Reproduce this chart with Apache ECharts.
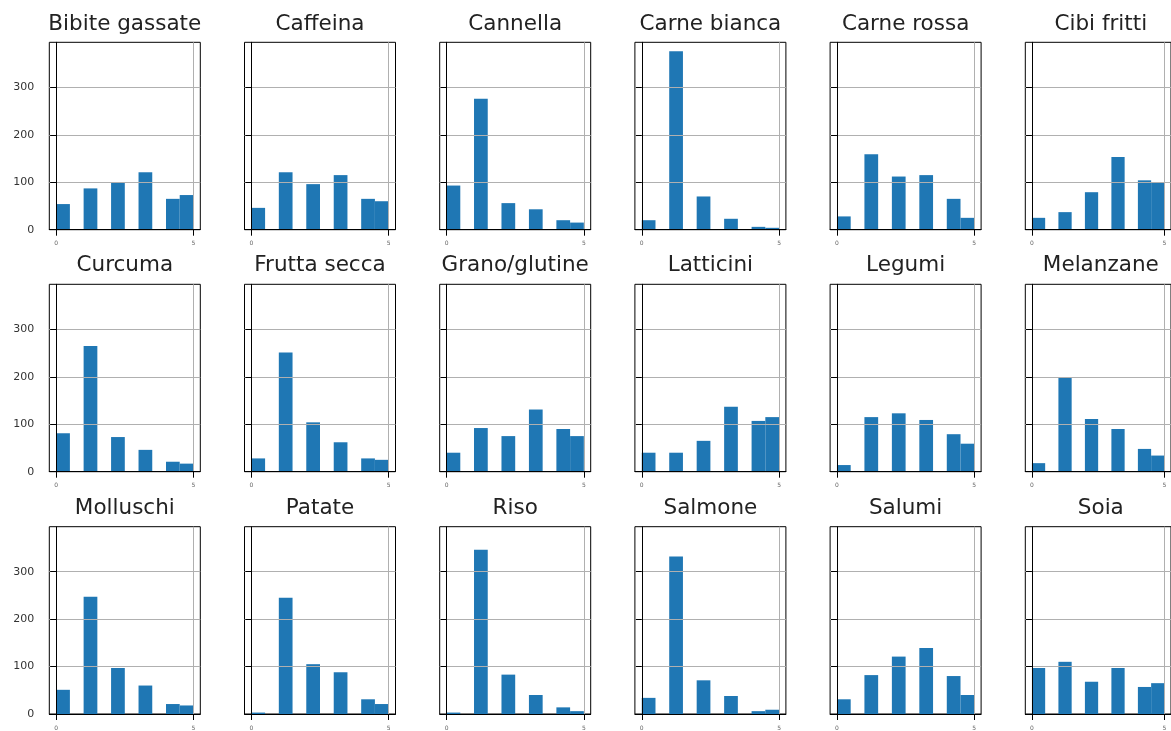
<!DOCTYPE html>
<html>
<head>
<meta charset="utf-8">
<script src="https://cdn.jsdelivr.net/npm/echarts@6/dist/echarts.min.js"></script>
<style>
  html, body { margin: 0; padding: 0; background: #fff; }
  #chart { width: 1171px; height: 731px; }
</style>
</head>
<body>
<div id="chart"></div>
<script>
// Foods, one histogram panel each (3 rows x 6 columns)
const foods = [
  'Bibite gassate', 'Caffeina', 'Cannella', 'Carne bianca', 'Carne rossa', 'Cibi fritti',
  'Curcuma', 'Frutta secca', 'Grano/glutine', 'Latticini', 'Legumi', 'Melanzane',
  'Molluschi', 'Patate', 'Riso', 'Salmone', 'Salumi', 'Soia'
];

// Number of answers per score (0..5), one entry per food in the order above
const countScore0 = [54, 46, 93, 20, 28, 25, 81, 28, 40, 40, 14, 18, 51, 3, 3, 34, 31, 97];
const countScore1 = [87, 121, 276, 376, 159, 37, 265, 251, 92, 40, 115, 199, 247, 245, 346, 332, 82, 110];
const countScore2 = [99, 96, 56, 70, 112, 79, 73, 104, 75, 65, 123, 111, 97, 105, 83, 71, 121, 68];
const countScore3 = [121, 115, 43, 23, 115, 153, 46, 62, 131, 137, 109, 90, 60, 88, 40, 38, 139, 97];
const countScore4 = [65, 65, 20, 6, 65, 104, 21, 28, 90, 107, 79, 48, 21, 31, 14, 6, 80, 57];
const countScore5 = [73, 60, 15, 4, 25, 99, 17, 25, 75, 115, 59, 34, 18, 21, 6, 9, 40, 65];

// Histogram bins (10 equal bins over 0..5); each score falls in one bin
const scoreBins = [[0, 0.5], [1, 1.5], [2, 2.5], [3, 3.5], [4, 4.5], [4.5, 5]];

// Tick values
const xTicks = [0, 5];
const yTicks = [0, 100, 200, 300];

const scoreCounts = [countScore0, countScore1, countScore2, countScore3, countScore4, countScore5];

const chart = echarts.init(document.getElementById('chart'), null, { renderer: 'canvas' });

const nCols = 6;
const gridLeft0 = 49.3, colStep = 195.2, gridWidth = 151;
const rowTops = [42.3, 284.3, 526.7];
const gridHeight = 187.4;
const titleTops = [13.6, 254.8, 497.3];

// Shared y range: tallest bar plus a 5% margin
let maxCount = 0;
scoreCounts.forEach(arr => arr.forEach(v => { if (v > maxCount) maxCount = v; }));
const yMax = maxCount * 1.05;

const grids = [], xAxes = [], yAxes = [], series = [], titles = [];

foods.forEach((food, i) => {
  const row = Math.floor(i / nCols), col = i % nCols;
  const left = gridLeft0 + col * colStep;
  const top = rowTops[row];

  grids.push({
    left: left, top: top, width: gridWidth, height: gridHeight,
    show: true, borderColor: '#000', borderWidth: 1, backgroundColor: 'transparent',
    containLabel: false
  });

  titles.push({
    text: food,
    left: left + gridWidth / 2,
    top: titleTops[row],
    textAlign: 'center',
    padding: 0,
    textStyle: { fontFamily: 'DejaVu Sans', fontSize: 21.5, fontWeight: 'normal', color: '#222' }
  });

  xAxes.push({
    gridIndex: i, type: 'value', min: -0.25, max: 5.25, z: 3,
    axisLine: { show: true, onZero: false, lineStyle: { color: '#000', width: 1 } },
    axisTick: { show: true, length: 6, customValues: xTicks, lineStyle: { color: '#000' } },
    axisLabel: { show: true, customValues: xTicks, fontSize: 6, margin: 11, color: '#666',
                 fontFamily: 'DejaVu Sans', showMinLabel: true, showMaxLabel: true },
    splitLine: { show: true, lineStyle: { color: '#b0b0b0', width: 1 } }
  });

  yAxes.push({
    gridIndex: i, type: 'value', min: 0, max: yMax, z: 3,
    axisLine: { show: true, lineStyle: { color: '#000', width: 1 } },
    axisTick: { show: true, length: 6, customValues: yTicks, lineStyle: { color: '#000' } },
    axisLabel: { show: col === 0, customValues: yTicks, fontSize: 11, margin: 15, color: '#333',
                 fontFamily: 'DejaVu Sans' },
    splitLine: { show: true, lineStyle: { color: '#b0b0b0', width: 1 } }
  });

  const data = scoreBins.map((bin, k) => [bin[0], bin[1], scoreCounts[k][i]]);

  series.push({
    type: 'custom',
    xAxisIndex: i, yAxisIndex: i,
    encode: { x: [0, 1], y: 2 },
    data: data,
    z: 2,
    renderItem: function (params, api) {
      const lo = api.value(0), hi = api.value(1), c = api.value(2);
      const p0 = api.coord([lo, c]);
      const p1 = api.coord([hi, 0]);
      return {
        type: 'rect',
        shape: { x: p0[0], y: p0[1], width: p1[0] - p0[0], height: p1[1] - p0[1] },
        style: { fill: '#1f77b4' }
      };
    }
  });
});

chart.setOption({
  animation: false,
  backgroundColor: '#fff',
  title: titles,
  grid: grids,
  xAxis: xAxes,
  yAxis: yAxes,
  series: series
});
</script>
</body>
</html>
